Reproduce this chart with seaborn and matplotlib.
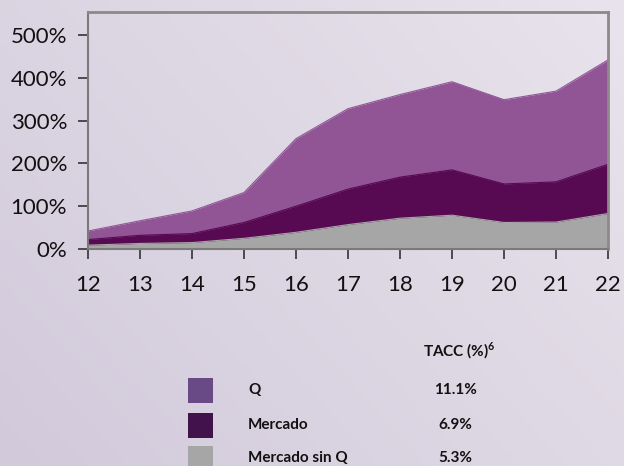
import matplotlib
matplotlib.use("Agg")
import matplotlib.pyplot as plt
import numpy as np
import pandas as pd
import seaborn as sns

# data (percent growth, areas overlap, not stacked)
years = [12, 13, 14, 15, 16, 17, 18, 19, 20, 21, 22]
q = [42, 66, 89, 132, 258, 328, 361, 391, 349, 369, 442]
mercado = [22, 32, 36, 62, 100, 140, 168, 185, 152, 157, 198]
mercado_sin_q = [9, 13, 15, 25, 39, 57, 72, 79, 62, 63, 83]

legend_names = ["Q", "Mercado", "Mercado sin Q"]
tacc = ["11.1%", "6.9%", "5.3%"]

df = pd.DataFrame({"year": years, "Q": q, "Mercado": mercado,
                   "Mercado sin Q": mercado_sin_q})

area_colors = {"Q": "#915596", "Mercado": "#570A52", "Mercado sin Q": "#A6A6A6"}
legend_colors = ["#6A4A86", "#42124C", "#A6A6A6"]

sns.set_theme(style="white")
plt.rcParams["font.family"] = ["Lato", "DejaVu Sans"]
plt.rcParams["mathtext.fontset"] = "custom"
plt.rcParams["mathtext.bf"] = "Lato:bold"

fig = plt.figure(figsize=(6.24, 4.66), dpi=100)

# lavender gradient background
bg = fig.add_axes([0, 0, 1, 1], zorder=-10)
gx, gy = np.meshgrid(np.linspace(0, 1, 200), np.linspace(0, 1, 200))
grad = 0.6 * gx + 0.4 * (1 - gy)
cmap = matplotlib.colors.LinearSegmentedColormap.from_list("bg", ["#D2CADB", "#E8E3EC"])
bg.imshow(grad, cmap=cmap, aspect="auto", extent=[0, 1, 0, 1], origin="upper")
bg.axis("off")

ax = fig.add_axes([88 / 624, 1 - 249 / 466, 520 / 624, 237 / 466])
ax.set_facecolor("none")

for name in ["Q", "Mercado", "Mercado sin Q"]:
    ax.fill_between(df["year"], 0, df[name], color=area_colors[name], lw=0)
    sns.lineplot(data=df, x="year", y=name, ax=ax, color=area_colors[name], lw=0.8)

ax.set_xlim(12, 22)
ax.set_ylim(0, 554)
ax.set_xticks(years)
ax.set_yticks([0, 100, 200, 300, 400, 500])
ax.set_yticklabels([f"{v}%" for v in [0, 100, 200, 300, 400, 500]])
ax.set_xlabel("")
ax.set_ylabel("")
ax.tick_params(axis="both", which="both", labelsize=16, colors="#333333",
               labelcolor="#111111", length=7, width=1.2, direction="out",
               left=True, bottom=True)
ax.tick_params(axis="x", pad=12)
ax.tick_params(axis="y", pad=8)
for side in ["top", "right"]:
    ax.spines[side].set_color("#8A8A8A")
    ax.spines[side].set_linewidth(2)
for side in ["left", "bottom"]:
    ax.spines[side].set_color("#7A7A7A")
    ax.spines[side].set_linewidth(1.5)

# legend table
fig.text(459 / 624, 1 - 351 / 466, r"TACC (%)$^{\mathbf{6}}$", ha="center", va="center",
         fontsize=11, fontweight="bold", color="#111111")
row_y = [390, 425, 458]
for name, val, col, yy in zip(legend_names, tacc, legend_colors, row_y):
    fig.patches.append(matplotlib.patches.Rectangle(
        (188 / 624, 1 - (yy + 13) / 466), 25 / 624, 25 / 466,
        transform=fig.transFigure, facecolor=col, edgecolor="none"))
    fig.text(248 / 624, 1 - yy / 466, name, ha="left", va="center",
             fontsize=11, fontweight="bold", color="#111111")
    fig.text(455 / 624, 1 - yy / 466, val, ha="center", va="center",
             fontsize=11, fontweight="bold", color="#111111")

fig.savefig("out.png", dpi=100)
